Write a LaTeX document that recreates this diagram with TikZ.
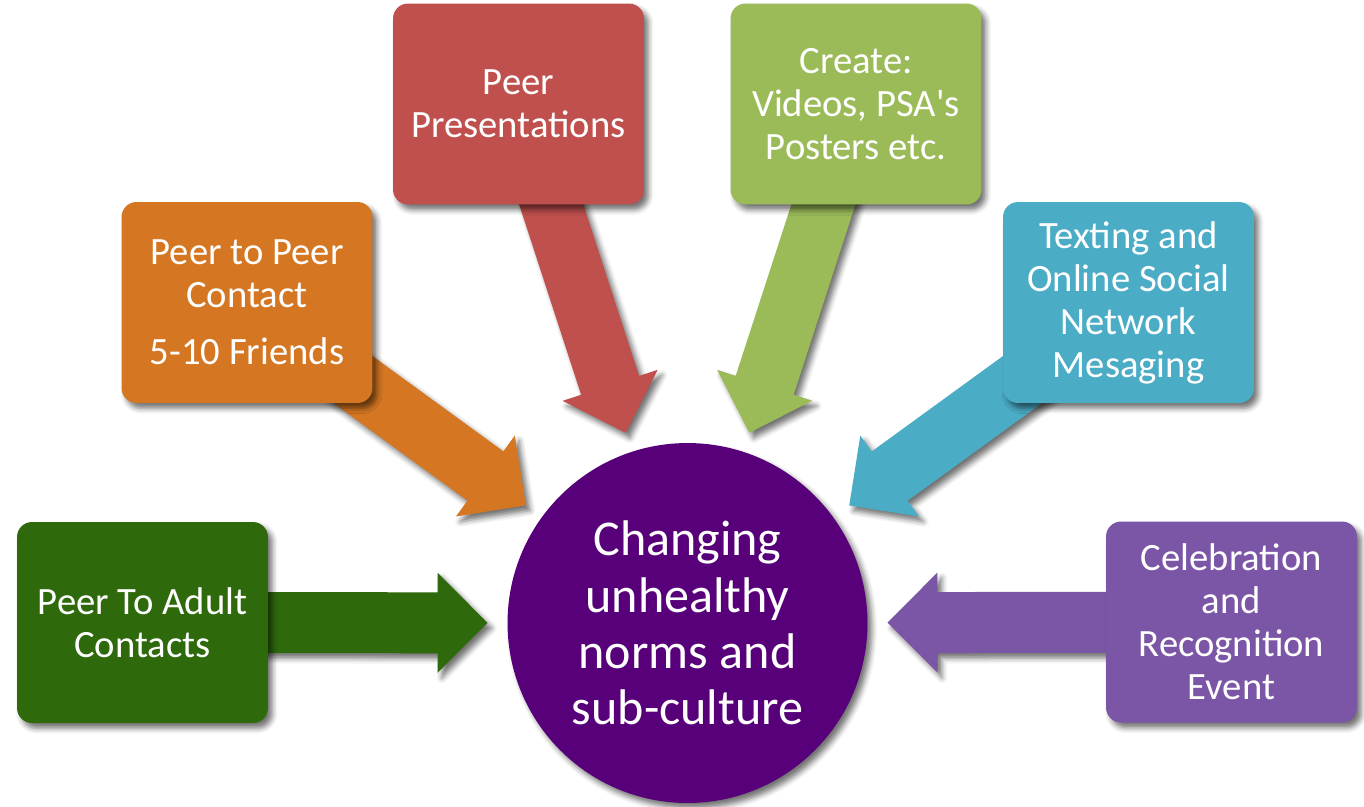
\documentclass[tikz,border=0pt]{standalone}
\usepackage{fontspec}
\setmainfont{Carlito}
\usetikzlibrary{calc,shadows,shadows.blur,backgrounds}
\definecolor{adultgreen}{RGB}{46,106,12}
\definecolor{peerorange}{RGB}{212,118,34}
\definecolor{presred}{RGB}{192,80,77}
\definecolor{medialime}{RGB}{155,187,89}
\definecolor{textteal}{RGB}{75,172,198}
\definecolor{eventlilac}{RGB}{124,86,166}
\definecolor{hubpurple}{RGB}{87,0,121}
\tikzset{
  soft shadow/.style = {blur shadow={shadow xshift=2.5pt, shadow yshift=-3pt,
                        shadow blur radius=3pt, shadow opacity=55}},
  idea/.style        = {rectangle, rounded corners=0.3cm, minimum width=5.02cm,
                        minimum height=4.02cm, inner sep=0pt, text=white, align=center,
                        font=\fontsize{22}{24.5}\selectfont, soft shadow},
  hub/.style         = {circle, fill=hubpurple, minimum size=7.2cm, inner sep=0pt,
                        text=white, align=center, font=\fontsize{28.5}{32}\selectfont,
                        soft shadow},
  feeder/.style      = {soft shadow}
}
% block arrow from the centre of an idea box towards the hub
\newcommand{\feed}[2]{%
  \coordinate (#1 tip)  at ($(hub.center)!4cm!(#1.center)$);
  \coordinate (#1 base) at ($(#1 tip)!1cm!(#1.center)$);
  \fill[#2, feeder] ($(#1.center)!0.61cm!-90:(#1 tip)$)
    -- ($(#1 base)!0.61cm!90:(#1.center)$) -- ($(#1 base)!1cm!90:(#1.center)$)
    -- (#1 tip)
    -- ($(#1 base)!1cm!-90:(#1.center)$) -- ($(#1 base)!0.61cm!-90:(#1.center)$)
    -- ($(#1.center)!0.61cm!90:(#1 tip)$) -- cycle;
}

\begin{document}
\begin{tikzpicture}[x=0.02cm, y=-0.02cm]
  \useasboundingbox (0,0) rectangle (1364,806);

  \node[hub] (hub) at (687.5,623) {Changing\\unhealthy\\norms and\\sub-culture};

  \node[idea, fill=adultgreen] (adult)  at (142.5,622.5) {Peer To Adult\\Contacts};
  \node[idea, fill=peerorange] (peer)   at (247,302.5)   {Peer to Peer\\Contact\\[8pt]5-10 Friends};
  \node[idea, fill=presred]    (pres)   at (518.5,104)   {Peer\\Presentations};
  \node[idea, fill=medialime]  (create) at (856,104)     {Create:\\Videos, PSA\textquotesingle s\\Posters etc.};
  \node[idea, fill=textteal]   (online) at (1128.5,302.5) {Texting and\\Online Social\\Network\\Mesaging};
  \node[idea, fill=eventlilac] (event)  at (1231.5,622)  {Celebration\\and\\Recognition\\Event};

  \begin{scope}[on background layer]
    \feed{adult}{adultgreen}
    \feed{peer}{peerorange}
    \feed{pres}{presred}
    \feed{create}{medialime}
    \feed{online}{textteal}
    \feed{event}{eventlilac}
  \end{scope}
\end{tikzpicture}
\end{document}
